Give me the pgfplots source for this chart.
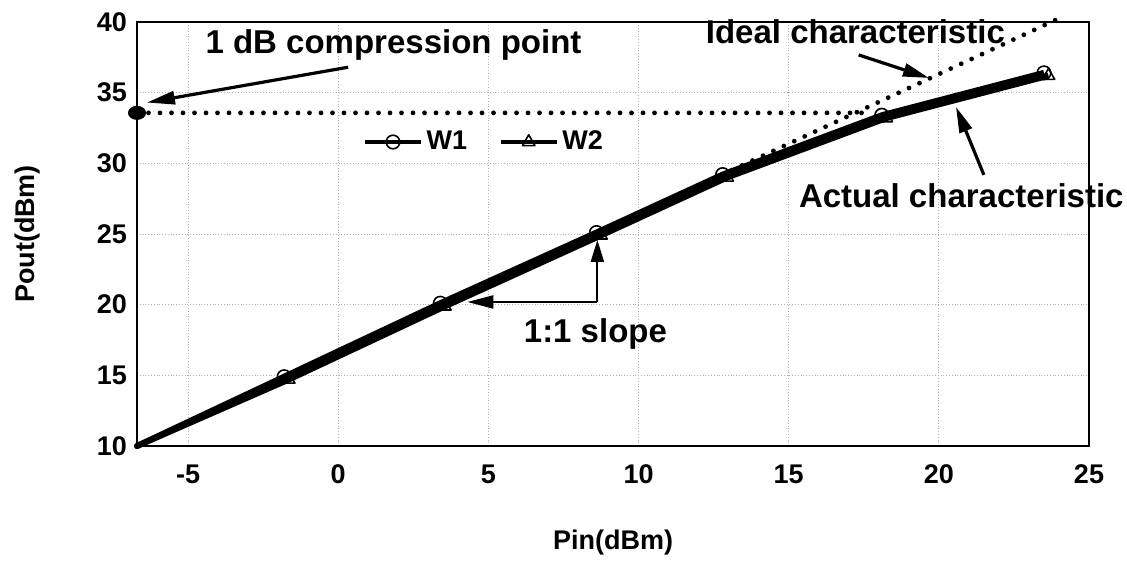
\documentclass[border=0pt]{standalone}
\usepackage{fontspec}
\setmainfont{Liberation Sans}
\usepackage{pgfplots}
\pgfplotsset{compat=1.18}
\usetikzlibrary{arrows.meta}

\newcommand{\annfont}{\bfseries\fontsize{16.5}{19}\selectfont}

\begin{document}
\begin{tikzpicture}
\begin{axis}[
  scale only axis, width=476pt, height=212pt,
  xmin=-6.7, xmax=25, ymin=10, ymax=40,
  xtick={-5,0,5,10,15,20,25}, xticklabels={-5,0,5,10,15,20,25},
  ytick={10,15,20,25,30,35,40}, yticklabels={10,15,20,25,30,35,40},
  major tick length=0pt,
  tick label style={font=\bfseries\fontsize{13.5}{15}\selectfont},
  xticklabel style={yshift=-6pt},
  yticklabel style={xshift=-1.5pt},
  grid=major,
  major grid style={gray!60, line width=0.4pt, densely dotted},
  axis line style={line width=1.2pt},
  clip=false,
  xlabel={Pin(dBm)}, ylabel={Pout(dBm)},
  label style={font=\bfseries\fontsize{13.5}{15}\selectfont},
  xlabel style={at={(axis description cs:0.5,-0.2288)}, anchor=center},
  ylabel style={at={(axis description cs:-0.1155,0.5)}, anchor=center},
  legend style={at={(axis description cs:0.2374,0.717)}, anchor=west,
    draw=none, fill=none, inner sep=0pt, legend columns=2,
    font=\bfseries\fontsize{13.5}{15}\selectfont,
    /tikz/every even column/.append style={column sep=14pt}},
  legend image code/.code={\draw[mark repeat=2,mark phase=2,#1,line width=1.6pt]
    plot coordinates {(0pt,0pt) (14pt,0pt) (28pt,0pt)};},
  dotline/.style={black, line width=2.4pt, line cap=round, dash pattern=on 0pt off 5.75pt},
]

% ideal 1:1 characteristic and the compression level
\addplot[forget plot, dotline] coordinates {(-6.7,10) (24.15,40.4)};
\addplot[forget plot, dotline] coordinates {(-6.7,33.57) (17.6,33.57)};
\addplot[forget plot, only marks, mark=*, mark size=3.3pt, mark options={xscale=1.3}]
  coordinates {(-6.7,33.57)};

% measured characteristic, start segments
\addplot[forget plot, black, line width=3pt, line cap=round] coordinates {(-6.7,10) (-1.8,14.9)};
\addplot[forget plot, black, line width=3pt, line cap=round] coordinates {(-6.7,10) (-1.65,14.7)};

\addplot[black, line width=3pt, line join=round, mark=o, mark size=3.4pt,
  mark options={solid, line width=0.8pt}]
  coordinates {(-1.8,14.9) (3.4,20.1) (8.6,25.1) (12.8,29.2) (18.1,33.4) (23.5,36.4)};
\addlegendentry{W1}
\addplot[black, line width=3pt, line join=round, mark=triangle, mark size=3.6pt,
  mark options={solid, line width=0.8pt}]
  coordinates {(-1.65,14.7) (3.55,19.88) (8.75,24.9) (12.95,29.0) (18.25,33.2) (23.65,36.2)};
\addlegendentry{W2}

% annotations
\node[anchor=base west, font=\annfont, inner sep=0pt] at (axis cs:-4.43,37.8) {1 dB compression point};
\draw[-{Triangle[length=14pt,width=6.5pt]}, line width=1.6pt] (axis cs:0.33,36.8) -- (axis cs:-6.37,34.3);

\node[anchor=base west, font=\annfont, inner sep=0pt] at (axis cs:12.23,38.5) {Ideal characteristic};
\draw[-{Triangle[length=13pt,width=6.5pt]}, line width=1.6pt] (axis cs:17.33,37.67) -- (axis cs:19.67,36.04);

\node[anchor=base west, font=\annfont, inner sep=0pt] at (axis cs:15.33,26.9) {Actual characteristic};
\draw[-{Triangle[length=13pt,width=6.5pt]}, line width=1.6pt] (axis cs:21.5,29.18) -- (axis cs:20.57,34.0);

\node[anchor=base west, font=\annfont, inner sep=0pt] at (axis cs:6.17,17.3) {1:1 slope};
\draw[-{Triangle[length=13pt,width=6.5pt]}, line width=1pt] (axis cs:8.63,20.19) -- (axis cs:4.3,20.19);
\draw[-{Triangle[length=11pt,width=6.5pt]}, line width=1pt] (axis cs:8.63,20.19) -- (axis cs:8.63,24.58);
\end{axis}
\path (current axis.south west) ++(-68.5pt,-55.5pt) rectangle ++(563.5pt,278.5pt);
\end{tikzpicture}
\end{document}
